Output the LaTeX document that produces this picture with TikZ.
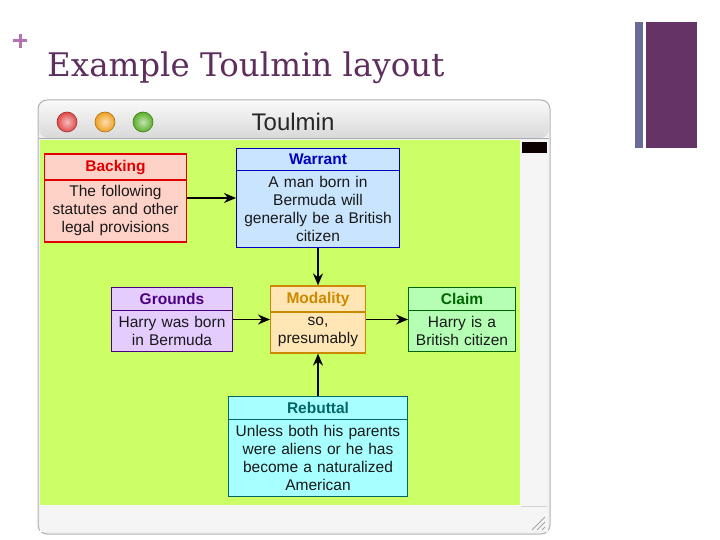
\documentclass[tikz,border=0pt]{standalone}
\usepackage{fontspec}
\setmainfont{Liberation Sans}
\newfontfamily\slidefont{DejaVu Serif}
\usetikzlibrary{shapes,arrows.meta,positioning}

\definecolor{slidetitle}{HTML}{5E2F5E}
\definecolor{slideplus}{HTML}{B472B4}
\definecolor{barthin}{HTML}{6A6A9A}
\definecolor{barthick}{HTML}{663366}
\definecolor{canvasgreen}{HTML}{CCFF66}
\definecolor{backfill}{HTML}{FFD2C8}
\definecolor{backline}{HTML}{E00000}
\definecolor{warrfill}{HTML}{C8E4FF}
\definecolor{warrline}{HTML}{0000C0}
\definecolor{grndfill}{HTML}{E4CCFF}
\definecolor{grndline}{HTML}{4B0082}
\definecolor{modfill}{HTML}{FFE6B4}
\definecolor{modline}{HTML}{CC8800}
\definecolor{claimfill}{HTML}{B4FFB4}
\definecolor{claimline}{HTML}{006600}
\definecolor{rebfill}{HTML}{A8FFFF}
\definecolor{rebline}{HTML}{006666}
\definecolor{lightred}{HTML}{E04848}
\definecolor{lightorange}{HTML}{F0A020}
\definecolor{lightgreen}{HTML}{5AB02A}

\tikzset{
  tbox/.style={rectangle split, rectangle split parts=2, draw, line width=1.4pt,
    inner xsep=2pt, inner ysep=5pt, align=center, text=black!90,
    font=\fontsize{15.5}{18}\selectfont},
  link/.style={-{Stealth[length=12pt,width=10pt]}, line width=1.4pt},
  light/.style={inner color=#1!35!white, outer color=#1, draw=#1!70!black, line width=0.6pt},
}

\begin{document}
\begin{tikzpicture}[x=1pt, y=-1pt]
        \useasboundingbox (0,0) rectangle (720,540);

        % slide title and side bars
        \fill[slideplus] (13,39.5) rectangle (27,42.5);
        \fill[slideplus] (18.5,34) rectangle (21.5,48);
        \node[anchor=base west, text=slidetitle, font=\slidefont\fontsize{32.5}{34}\selectfont, inner sep=0pt] (title) at (47,77) {Example Toulmin layout};
        \fill[barthin] (635,22) rectangle (643,148);
        \fill[barthick] (646,22) rectangle (697,148);

        % window frame
        \fill[gray!12, draw=gray!60, line width=1pt, rounded corners=9pt] (38,534) |- (550,100) -- (550,534) -- cycle;
        \shade[top color=gray!5, bottom color=gray!30, rounded corners=9pt] (39,138) |- (549,101) -- (549,138) -- cycle;
        \draw[gray!65, line width=1pt] (39,138.5) -- (549,138.5);
        \shadedraw[light=lightred] (67,122) circle (10);
        \shadedraw[light=lightorange] (105,122) circle (10);
        \shadedraw[light=lightgreen] (143,122) circle (10);
        \node[text=black!85, font=\fontsize{24}{26}\selectfont] (wintitle) at (293,122) {Toulmin};

        % canvas, scroll bar, bottom bar
        \fill[canvasgreen] (40,140) rectangle (520,505);
        \fill[gray!8] (520,140) rectangle (548,505);
        \fill[black!95!red] (522,142) rectangle (547,153);
        \fill[gray!8] (40,505) rectangle (548,532);
        \draw[gray!35] (521,506) |- (547,506);
        \draw[gray!70, line width=1pt] (532,530) -- (545,517) (537,530) -- (545,522) (542,530) -- (545,527);

        % argument parts
        \node[tbox, fill=backfill, draw=backline, text width=137.6pt] (backing) at (115.5,198)
            {\textbf{\color{backline}Backing}\nodepart{two}The following\\statutes and other\\legal provisions};
        \node[tbox, fill=warrfill, draw=warrline, text width=158.6pt] (warrant) at (318,198)
            {\textbf{\color{warrline}Warrant}\nodepart{two}A man born in\\Bermuda will\\generally be a British\\citizen};
        \node[tbox, fill=grndfill, draw=grndline, text width=116.6pt] (grounds) at (172,319.5)
            {\textbf{\color{grndline}Grounds}\nodepart{two}Harry was born\\in Bermuda};
        \node[tbox, fill=modfill, draw=modline, text width=90.6pt] (modality) at (318,319.5)
            {\textbf{\color{modline}Modality}\nodepart{two}so,\\presumably};
        \node[tbox, fill=claimfill, draw=claimline, text width=102.6pt] (claim) at (462,319.5)
            {\textbf{\color{claimline}Claim}\nodepart{two}Harry is a\\British citizen};
        \node[tbox, fill=rebfill, draw=rebline, text width=174.6pt] (rebuttal) at (318,446.5)
            {\textbf{\color{rebline}Rebuttal}\nodepart{two}Unless both his parents\\were aliens or he has\\become a naturalized\\American};

        % links
        \draw[link] (backing) -- (warrant);
        \draw[link] (warrant) -- (modality);
        \draw[link] (grounds) -- (modality);
        \draw[link] (modality) -- (claim);
        \draw[link] (rebuttal) -- (modality);
    \end{tikzpicture}
\end{document}
